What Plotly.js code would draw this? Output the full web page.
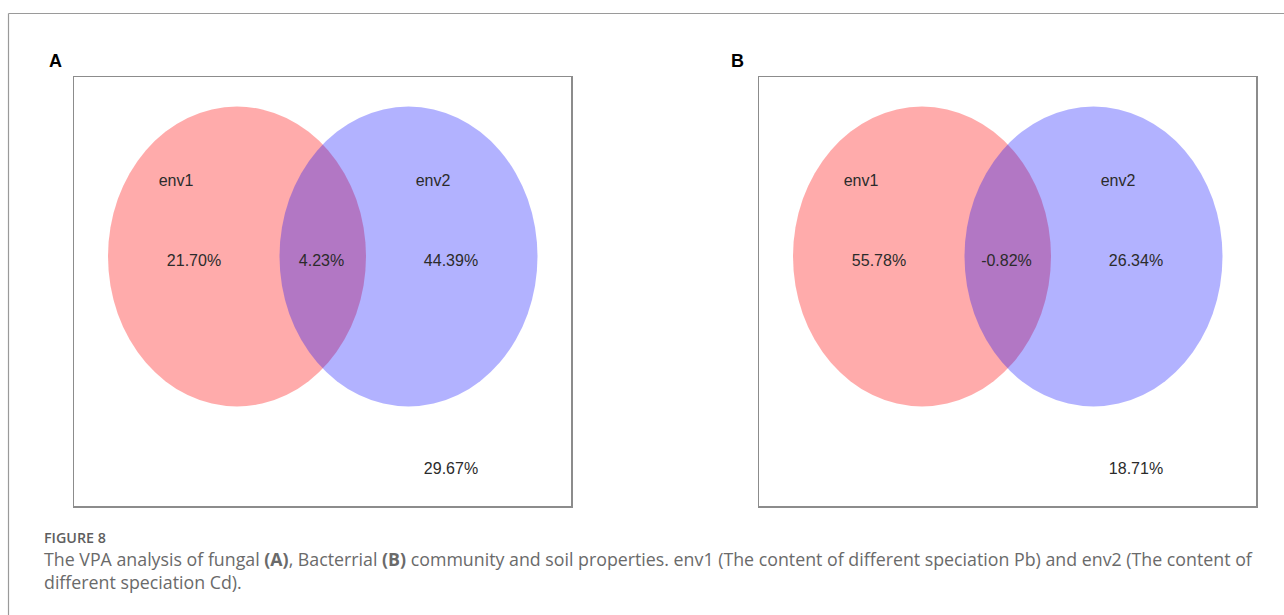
<!DOCTYPE html>
<html>
<head>
<meta charset="utf-8">
<script src="https://cdn.plot.ly/plotly-3.0.1.min.js"></script>
<style>
  html, body { margin: 0; padding: 0; background: #fff; }
  #fig { width: 1284px; height: 615px; }
</style>
</head>
<body>
<div id="fig"></div>
<script>
// Variation partitioning results (percent of explained variation)
const panelLabels = ['A', 'B'];
const setNames = ['env1', 'env2'];
const env1Only = [21.70, 55.78];
const sharedPart = [4.23, -0.82];
const env2Only = [44.39, 26.34];
const residuals = [29.67, 18.71];

const W = 1284, H = 615;
// panel frame geometry in pixels
const boxW = 497, boxH = 429, boxTop = 77;
const boxLefts = [74, 759];
// ellipse geometry inside a panel (panel pixel units)
const ell = { rx: 129, ry: 150, cy: 179.5, c1: 163, c2: 334.5 };
const labelFont = { family: 'Liberation Sans, Arial, sans-serif', size: 16, color: '#2b2b2b' };

const fmt = v => v.toFixed(2) + '%';

const traces = [];
const shapes = [];
const annotations = [];
const layout = {
  width: W, height: H,
  margin: { l: 0, r: 0, t: 0, b: 0 },
  paper_bgcolor: '#ffffff',
  plot_bgcolor: '#ffffff',
  showlegend: false,
  shapes: shapes,
  annotations: annotations
};

panelLabels.forEach((p, i) => {
  const xa = i === 0 ? 'x' : 'x2';
  const ya = i === 0 ? 'y' : 'y2';
  const axCommon = {
    showgrid: false, zeroline: false, showticklabels: false, ticks: '',
    showline: true, mirror: true, linecolor: '#8c8c8c', linewidth: 1.5,
    fixedrange: true
  };
  layout[i === 0 ? 'xaxis' : 'xaxis2'] = Object.assign({}, axCommon, {
    anchor: ya,
    domain: [boxLefts[i] / W, (boxLefts[i] + boxW) / W],
    range: [0, boxW]
  });
  layout[i === 0 ? 'yaxis' : 'yaxis2'] = Object.assign({}, axCommon, {
    anchor: xa,
    domain: [(H - boxTop - boxH) / H, (H - boxTop) / H],
    range: [boxH, 0]
  });

  // the two sets
  [[ell.c1, 'rgba(255,0,0,0.33)'], [ell.c2, 'rgba(0,0,255,0.30)']].forEach(([cx, col]) => {
    shapes.push({
      type: 'circle', xref: xa, yref: ya, layer: 'below',
      x0: cx - ell.rx, x1: cx + ell.rx, y0: ell.cy - ell.ry, y1: ell.cy + ell.ry,
      fillcolor: col, line: { width: 0 }
    });
  });

  // set names and fractions
  traces.push({
    type: 'scatter', mode: 'text', xaxis: xa, yaxis: ya,
    x: [102, 359, 120, 247.5, 377, 377],
    y: [105, 105, 185, 185, 185, 393],
    text: [setNames[0], setNames[1], fmt(env1Only[i]), fmt(sharedPart[i]), fmt(env2Only[i]), fmt(residuals[i])],
    textposition: 'middle center',
    textfont: labelFont,
    hoverinfo: 'skip'
  });

  // panel letter
  annotations.push({
    xref: 'paper', yref: 'paper',
    x: (i === 0 ? 55 : 737) / W, y: 1 - 61.5 / H,
    xanchor: 'center', yanchor: 'middle', showarrow: false,
    text: '<b>' + p + '</b>',
    font: { family: 'Liberation Sans, Arial, sans-serif', size: 18, color: '#000' }
  });
});

// outer figure frame (left and top edges)
shapes.push({ type: 'line', xref: 'paper', yref: 'paper', x0: 8.5 / W, x1: 8.5 / W, y0: 0, y1: 1 - 13.5 / H, line: { color: '#9a9a9a', width: 1.2 } });
shapes.push({ type: 'line', xref: 'paper', yref: 'paper', x0: 8.5 / W, x1: 1, y0: 1 - 13.5 / H, y1: 1 - 13.5 / H, line: { color: '#9a9a9a', width: 1.2 } });

// caption
annotations.push({
  xref: 'paper', yref: 'paper', x: 42 / W, y: 1 - 537 / H,
  xanchor: 'left', yanchor: 'middle', showarrow: false,
  text: 'FIGURE 8',
  font: { family: 'Open Sans, sans-serif', size: 14.3, weight: 600, color: '#5e5e5e' }
});
annotations.push({
  xref: 'paper', yref: 'paper', x: 42 / W, y: 1 - 570 / H,
  xanchor: 'left', yanchor: 'middle', align: 'left', showarrow: false,
  text: 'The VPA analysis of fungal <b>(A)</b>, Bacterrial <b>(B)</b> community and soil properties. env1 (The content of different speciation Pb) and env2 (The content of' +
        '<br>different speciation Cd).',
  font: { family: 'Open Sans, sans-serif', size: 17.8, color: '#6a6a6a' }
});

Plotly.newPlot('fig', traces, layout, { displayModeBar: false, staticPlot: true });
</script>
</body>
</html>
